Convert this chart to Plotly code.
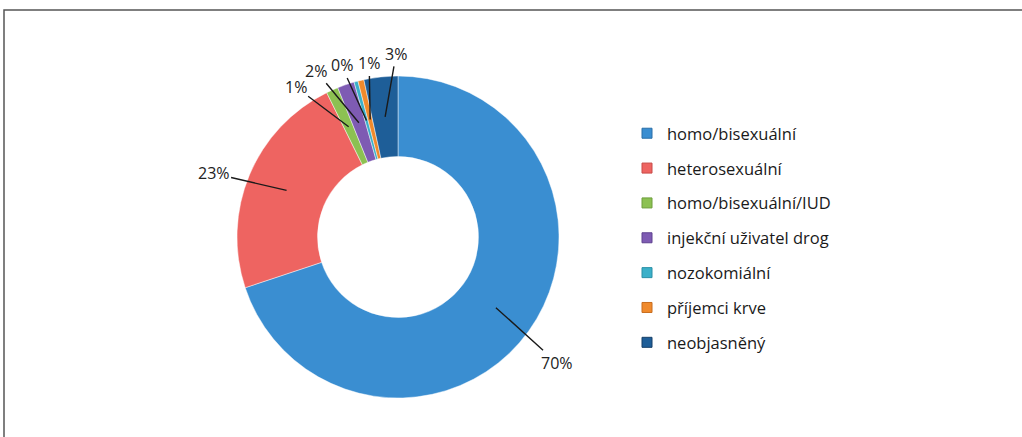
import math
import plotly.graph_objects as go

categories = ["homo/bisexuální", "heterosexuální", "homo/bisexuální/IUD",
              "injekční uživatel drog", "nozokomiální", "příjemci krve", "neobjasněný"]
values = [69.9, 22.8, 1.2, 1.7, 0.4, 0.6, 3.4]
colors = ["#3A8ED1", "#EE6461", "#8CC152", "#7E5BB3", "#3BB0C9", "#F08A2C", "#1E5E98"]
edge_colors = ["#2A6FA8", "#C84B48", "#6E9E3C", "#5F4290", "#2A8FA6", "#C86C1E", "#153F68"]
# label offsets (pixels) from leader tip
label_dx = [61, -73, -53, -43, -25, -1, 11]
label_dy = [55, -17, -40, -52, -55, -56, -63]

W, H = 1022, 437
cx, cy = 398, 237   # pie centre (px from top-left)
R = 161
hole = 0.5

fig = go.Figure()
fig.add_trace(go.Pie(
    labels=categories, values=values, sort=False, direction="clockwise",
    rotation=0, hole=hole, textinfo="none", hoverinfo="label+percent",
    marker=dict(colors=colors, line=dict(color="rgba(255,255,255,0.45)", width=1)),
    domain=dict(x=[(cx - R) / W, (cx + R) / W], y=[(H - cy - R) / H, (H - cy + R) / H]),
    showlegend=False,
))

# legend entries
for name, c, ec in zip(categories, colors, edge_colors):
    fig.add_trace(go.Scatter(
        x=[None], y=[None], mode="markers", name=name, legendgroup=name,
        marker=dict(symbol="square", size=10, color=c, line=dict(color=ec, width=1)),
    ))

total = sum(values)
cum = 0.0
r_mid = R * (1 + hole) / 2
annotations = []
for v, dx, dy in zip(values, label_dx, label_dy):
    mid = (cum + v / 2) / total * 2 * math.pi
    cum += v
    px = cx + r_mid * math.sin(mid)
    py = cy - r_mid * math.cos(mid)
    annotations.append(dict(
        x=px / W, y=(H - py) / H, xref="paper", yref="paper",
        text=f"{round(v / total * 100)}%", showarrow=True, arrowhead=0,
        arrowwidth=1.4, arrowcolor="#1a1a1a", ax=dx, ay=dy,
        font=dict(family="Open Sans", size=16, color="#222"),
    ))

fig.update_layout(
    width=W, height=H, margin=dict(l=0, r=0, t=0, b=0),
    paper_bgcolor="white", plot_bgcolor="white",
    xaxis=dict(visible=False), yaxis=dict(visible=False),
    annotations=annotations,
    legend=dict(x=627 / W, xanchor="left", y=(H - 116) / H, yanchor="top",
                tracegroupgap=10.4, traceorder="grouped",
                font=dict(family="Open Sans", size=16.5, color="#1a1a1a"),
                bgcolor="rgba(0,0,0,0)"),
    shapes=[dict(type="rect", xref="paper", yref="paper",
                 x0=4 / W, x1=1.05, y0=-0.05, y1=(H - 10) / H,
                 line=dict(color="#555", width=1.5))],
)

fig.write_html("out.html", config={"displayModeBar": False},
               post_script="document.body.style.margin='0';")
